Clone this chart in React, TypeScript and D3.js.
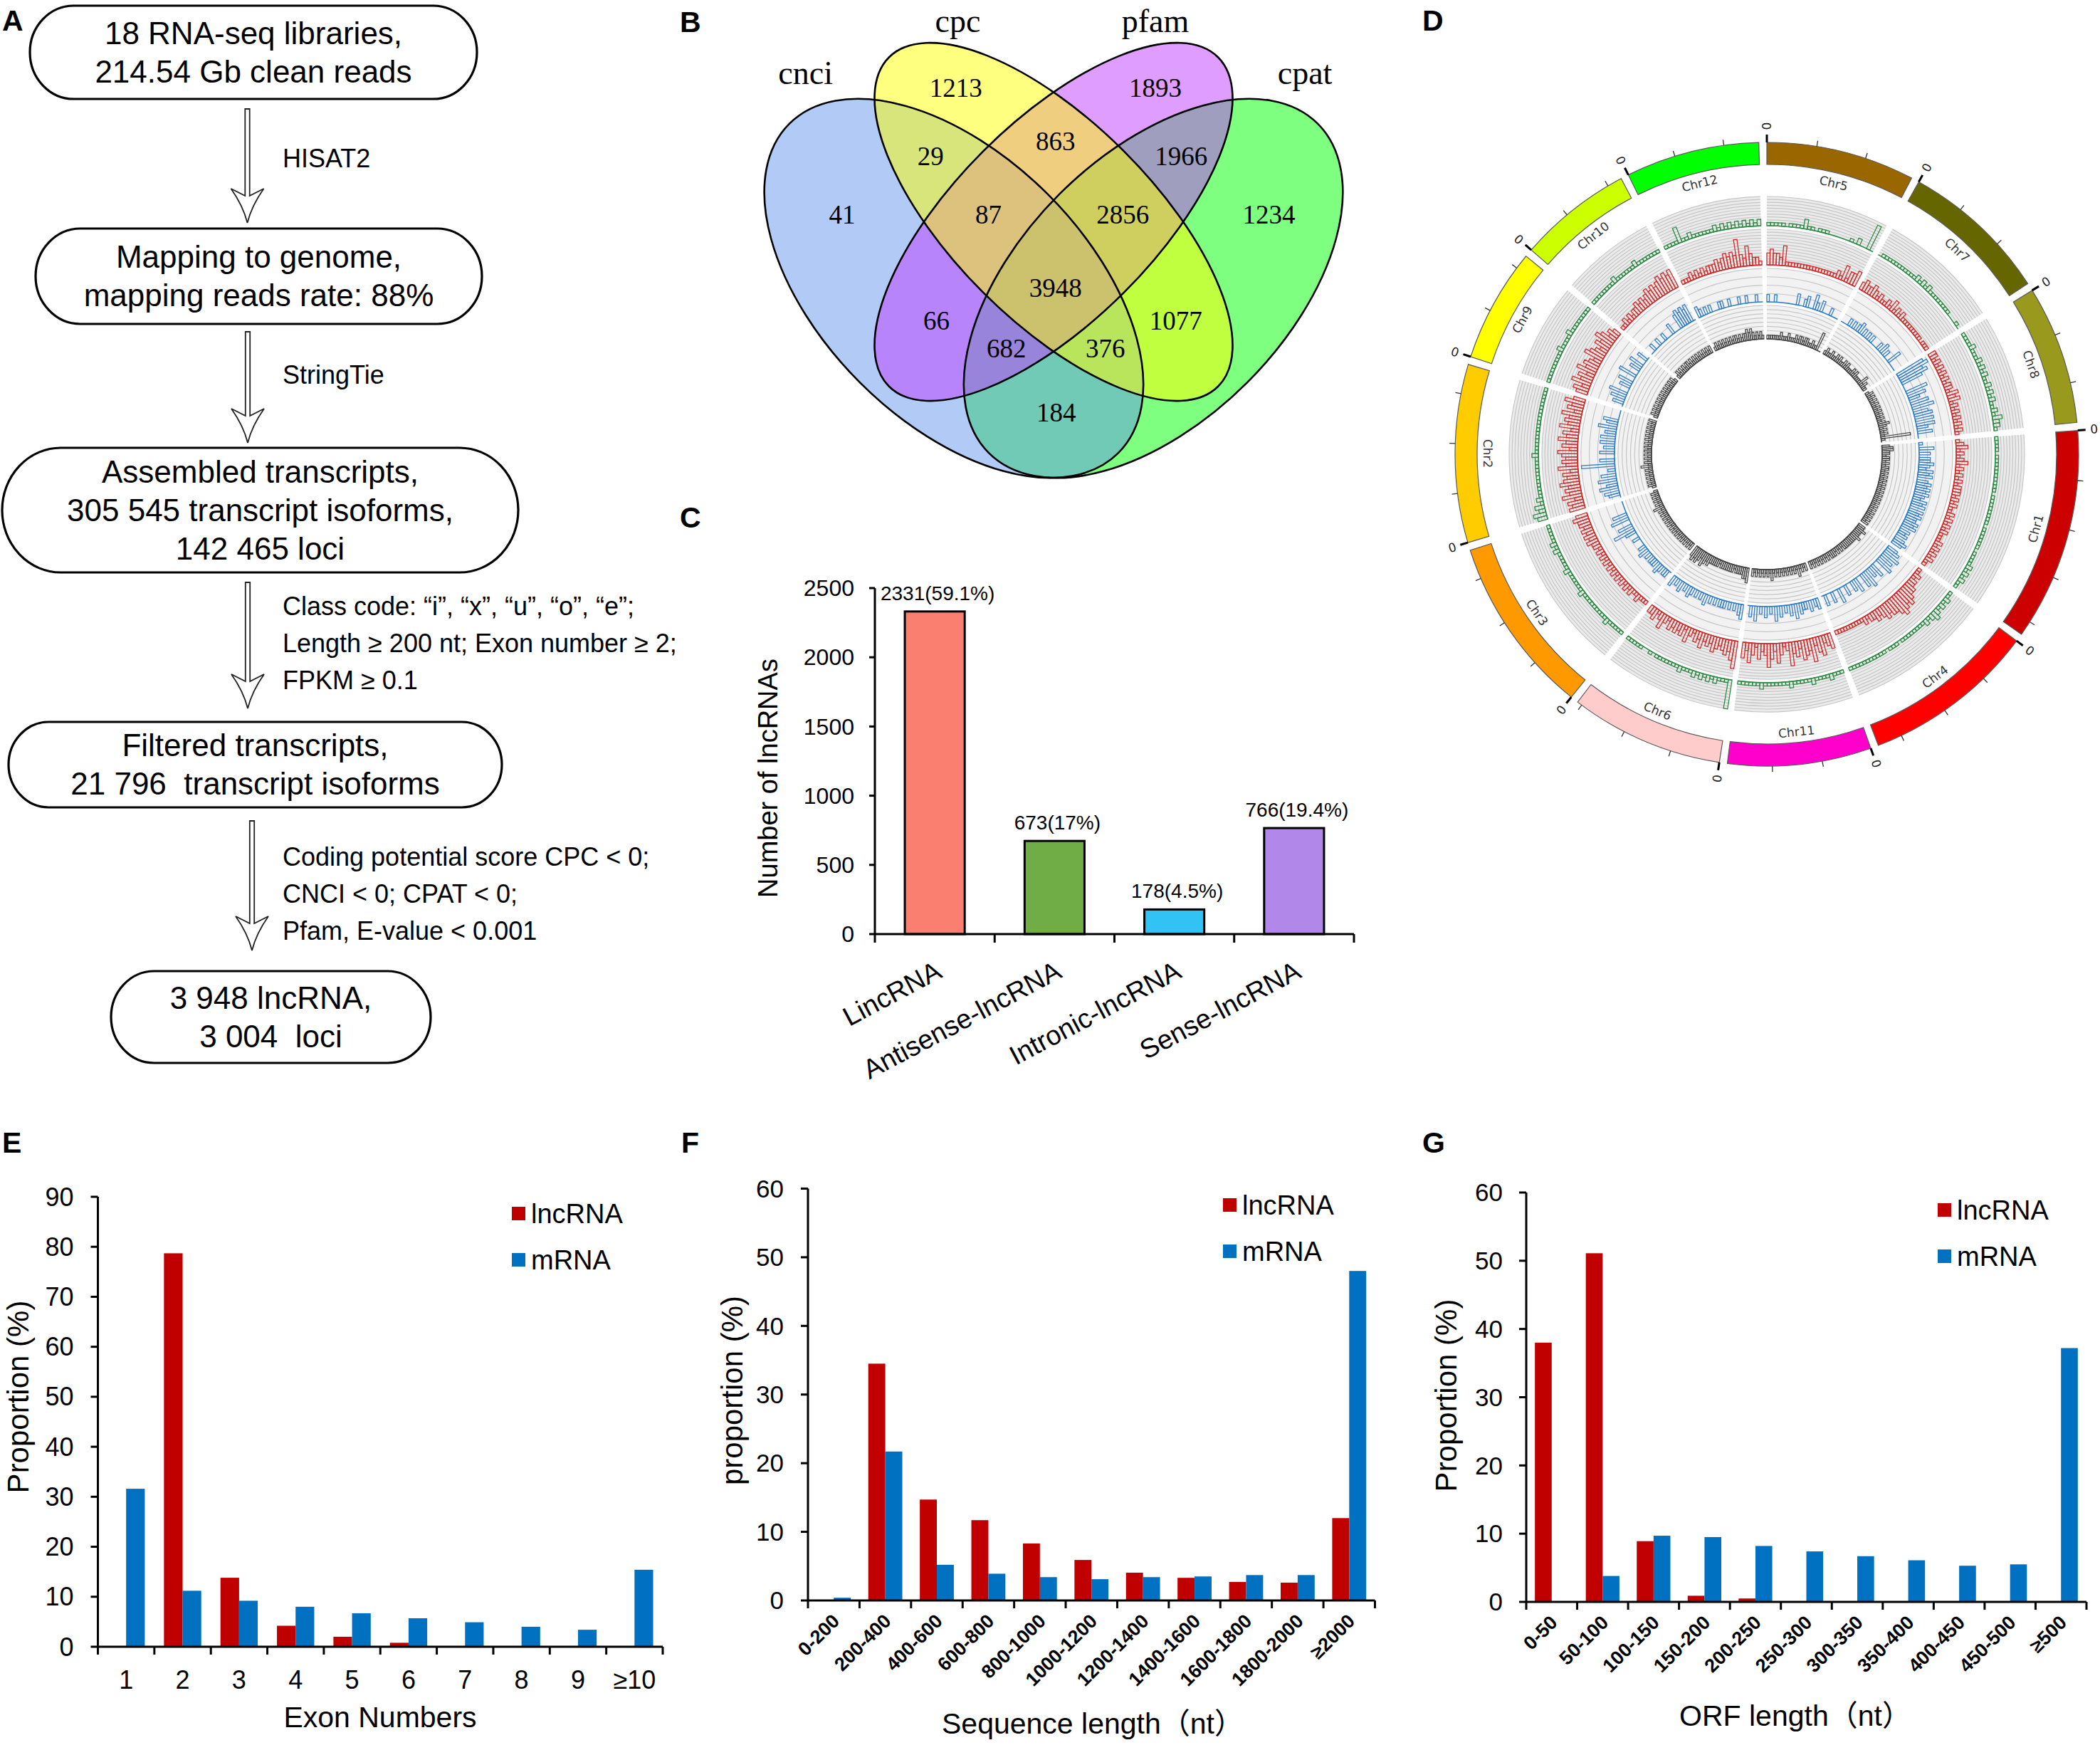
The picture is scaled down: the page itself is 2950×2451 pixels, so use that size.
import { useEffect } from "react";
import * as d3 from "d3";

const FONT = "'Liberation Sans', Arial, Helvetica, sans-serif";
const SERIF = "'Liberation Serif', 'Times New Roman', Times, serif";
const CIRCOS_FONT = "'DejaVu Sans', 'Liberation Sans', sans-serif";
const WIDE = "'Liberation Sans', Arial, 'Noto Sans CJK SC', sans-serif";

// ---------- A: pipeline ----------
const flowBoxText = [
  ["18 RNA-seq libraries,", "214.54 Gb clean reads"],
  ["Mapping to genome,", "mapping reads rate: 88%"],
  ["Assembled transcripts,", "305 545 transcript isoforms,", "142 465 loci"],
  ["Filtered transcripts,", "21 796  transcript isoforms"],
  ["3 948 lncRNA,", "3 004  loci"],
];
const flowStepText = [
  ["HISAT2"],
  ["StringTie"],
  [
    "Class code: \u201ci\u201d, \u201cx\u201d, \u201cu\u201d, \u201co\u201d, \u201ce\u201d;",
    "Length \u2265 200 nt; Exon number \u2265 2;",
    "FPKM \u2265 0.1",
  ],
  ["Coding potential score CPC < 0;", "CNCI < 0; CPAT < 0;", "Pfam, E-value < 0.001"],
];

// ---------- B: venn ----------
const vennSets = ["cnci", "cpc", "pfam", "cpat"];
const vennFills = ["#6495ed", "#ffff00", "#bf3eff", "#00ff00"];
const vennCounts = [41, 1213, 1893, 1234, 29, 863, 1966, 87, 2856, 3948, 66, 1077, 682, 376, 184];

// ---------- C: lncRNA classes ----------
const lncTypes = ["LincRNA", "Antisense-lncRNA", "Intronic-lncRNA", "Sense-lncRNA"];
const lncTypeCounts = [2331, 673, 178, 766];
const lncTypeShares = ["59.1%", "17%", "4.5%", "19.4%"];
const lncTypeColors = ["#fa7f70", "#70ad47", "#31c3f3", "#b287ea"];

// ---------- D: circos ----------
const chromNames = ["Chr5", "Chr7", "Chr8", "Chr1", "Chr4", "Chr11", "Chr6", "Chr3", "Chr2", "Chr9", "Chr10", "Chr12"];
const chromLengths = [30, 30, 28, 43, 35, 29, 31, 36, 36, 23, 23, 27]; // Mb
const chromColors = ["#996600", "#666600", "#99991e", "#cc0000", "#ff0000", "#ff00cc", "#ffcccc", "#ff9900", "#ffcc00", "#ffff00", "#ccff00", "#00ff00"];
// one digit per 1 Mb bin, 0-9 of the ring height, read by eye
const greenTrack = [
  "111110111131101110000001020080",
  "011111111111212121111111100010",
  "1111211121212112121211213221",
  "1111011111111110111111110111111011112121211",
  "11212123212111111110111011111111111",
  "11121111211111211111112111111",
  "9111212121211121111111010011111",
  "111112111111111211111121111121211111",
  "342312111111111112111111111111111111",
  "11111111121111211111111",
  "11111111211111121111111",
  "111151121111112121212121212",
];
const redTrack = [
  "343325111111111111111112141334",
  "232232121121312121111111110111",
  "2212121212122132312121212121",
  "1231212312121212221212112121212111212121211",
  "11212233454565443432322121111111111",
  "43254263452436213524632413524",
  "7534323423242312413232312421322",
  "111211212121212121212121223232323343",
  "434253435434253434524353425343524353",
  "34253425343254324354232",
  "11212122323234343454545",
  "111212121222323434373253221",
];
const blueTrack = [
  "200200000000300230042030002000",
  "000202023020202000203020040000",
  "8978600060530506045050530400",
  "1040303343243403434343243404343343403230343",
  "34050405004030504004030030040030030",
  "32030223040302030402030204030",
  "4302020222020203020202302030203",
  "022023022202030200020036040050400000",
  "034053050402090400403040403050340000",
  "03040500304005003040030",
  "00200200200030004545450",
  "320202000220020002002000200",
];
const greyTrack = [
  "111111121112111212212211211500",
  "121121121211212111212111131211",
  "1212121212121212123212121810",
  "2332212212122121212121212121212121212121212",
  "22322232222222212121222121212121212",
  "21213121212121212131212121212",
  "4332222122222221222223234234343",
  "212121212121212121212121213121212121",
  "121212121213121212121212121212121212",
  "12121212121212121212121",
  "12121212212121212121212",
  "121212121212212122323212121",
];

// ---------- E/F/G ----------
const exonCats = ["1", "2", "3", "4", "5", "6", "7", "8", "9", "\u226510"];
const exonLnc = [0, 78.7, 13.8, 4.2, 2.0, 0.8, 0.1, 0.1, 0.1, 0.1];
const exonMrna = [31.6, 11.2, 9.2, 8.0, 6.7, 5.7, 4.9, 4.0, 3.4, 15.4];

const lenCats = ["0-200", "200-400", "400-600", "600-800", "800-1000", "1000-1200", "1200-1400", "1400-1600", "1600-1800", "1800-2000", "\u22652000"];
const lenLnc = [0, 34.5, 14.7, 11.7, 8.3, 5.9, 4.05, 3.3, 2.7, 2.6, 12.0];
const lenMrna = [0.4, 21.7, 5.2, 3.9, 3.4, 3.1, 3.4, 3.5, 3.7, 3.7, 48.0];

const orfCats = ["0-50", "50-100", "100-150", "150-200", "200-250", "250-300", "300-350", "350-400", "400-450", "450-500", "\u2265500"];
const orfLnc = [38.0, 51.1, 8.9, 0.9, 0.5, 0.1, 0, 0, 0, 0, 0];
const orfMrna = [0, 3.8, 9.7, 9.5, 8.2, 7.4, 6.7, 6.1, 5.3, 5.5, 37.2];

const seriesNames = ["lncRNA", "mRNA"];
const seriesColors = ["#c00000", "#0070c0"];

// ---------- layout ----------
const BOX_FRAMES = [
  { x0: 42, x1: 670, y0: 8, y1: 139 },
  { x0: 50, x1: 677, y0: 321, y1: 455 },
  { x0: 3, x1: 728, y0: 629, y1: 804 },
  { x0: 12, x1: 705, y0: 1014, y1: 1134 },
  { x0: 156, x1: 605, y0: 1364, y1: 1493 },
];
const ARROW_FRAMES = [
  { x: 347.5, y0: 153, y1: 313 },
  { x: 348, y0: 466, y1: 622 },
  { x: 348, y0: 818, y1: 995 },
  { x: 354, y0: 1153, y1: 1335 },
];
const STEP_TEXT_Y = [222, 526, 851, 1203];

const VENN_SHAPES = [
  { cx: 0.35, cy: 0.47, a: 0.35, b: 0.2, rot: 45 },
  { cx: 0.5, cy: 0.57, a: 0.35, b: 0.15, rot: 45 },
  { cx: 0.5, cy: 0.57, a: 0.35, b: 0.15, rot: -45 },
  { cx: 0.65, cy: 0.47, a: 0.35, b: 0.2, rot: -45 },
];
const VENN_SET_POS = [[0.127, 0.777], [0.356, 0.855], [0.653, 0.855], [0.878, 0.777]];
const VENN_COUNT_POS = [
  [0.182, 0.581], [0.353, 0.772], [0.653, 0.772], [0.824, 0.581],
  [0.315, 0.669], [0.503, 0.691], [0.692, 0.669],
  [0.402, 0.581], [0.604, 0.581], [0.503, 0.471],
  [0.324, 0.421], [0.684, 0.421], [0.429, 0.38], [0.578, 0.38], [0.504, 0.283],
];

function arrowPath(x: number, y0: number, y1: number) {
  const hw = 3.2;
  const wing = 23;
  const wingY = y1 - 48;
  const joinY = wingY + 10;
  return `M${x - hw},${y0} L${x + hw},${y0} L${x + hw},${joinY} Q${x + hw + 8},${joinY - 4} ${x + wing},${wingY} Q${x + 6},${y1 - 24} ${x},${y1} Q${x - 6},${y1 - 24} ${x - wing},${wingY} Q${x - hw - 8},${joinY - 4} ${x - hw},${joinY} Z`;
}

function Pipeline() {
  return (
    <g>
      {flowBoxText.map((lines, i) => {
        const f = BOX_FRAMES[i];
        const h = f.y1 - f.y0;
        const mid = (f.y0 + f.y1) / 2;
        const cxm = (f.x0 + f.x1) / 2;
        return (
          <g key={"b" + i}>
            <rect x={f.x0} y={f.y0} width={f.x1 - f.x0} height={h} rx={h * 0.47} ry={h / 2} fill="#fff" stroke="#000" strokeWidth={3.2} />
            {lines.map((t, j) => (
              <text key={j} x={cxm} y={mid + (j - (lines.length - 1) / 2) * 54} dy="0.35em" textAnchor="middle" fontSize={44} style={{ whiteSpace: "pre" }}>
                {t}
              </text>
            ))}
          </g>
        );
      })}
      {ARROW_FRAMES.map((a, i) => (
        <g key={"a" + i}>
          <path d={arrowPath(a.x, a.y0, a.y1)} fill="#fff" stroke="#222" strokeWidth={1.8} />
          {flowStepText[i].map((t, j) => (
            <text key={j} x={397} y={STEP_TEXT_Y[i] + j * 52} dy="0.35em" fontSize={36}>
              {t}
            </text>
          ))}
        </g>
      ))}
    </g>
  );
}

function Venn() {
  const vx = d3.scaleLinear().domain([0, 1]).range([1013, 1947]);
  const vy = d3.scaleLinear().domain([0, 1]).range([844, -90]);
  const k = vx(1) - vx(0);
  const paintOrder = [3, 0, 2, 1];
  const shape = (i: number, props: any) => {
    const e = VENN_SHAPES[i];
    return (
      <ellipse key={i} cx={vx(e.cx)} cy={vy(e.cy)} rx={e.a * k} ry={e.b * k} transform={`rotate(${e.rot} ${vx(e.cx)} ${vy(e.cy)})`} {...props} />
    );
  };
  return (
    <g>
      {paintOrder.map((i) => shape(i, { fill: vennFills[i], fillOpacity: 0.5 }))}
      {VENN_SHAPES.map((_, i) => shape(i, { fill: "none", stroke: "#000", strokeWidth: 2.6 }))}
      {vennSets.map((s, i) => (
        <text key={s} x={vx(VENN_SET_POS[i][0])} y={vy(VENN_SET_POS[i][1])} textAnchor="middle" fontFamily={SERIF} fontSize={46}>
          {s}
        </text>
      ))}
      {vennCounts.map((c, i) => (
        <text key={i} x={vx(VENN_COUNT_POS[i][0])} y={vy(VENN_COUNT_POS[i][1])} dy="0.34em" textAnchor="middle" fontFamily={SERIF} fontSize={37}>
          {c}
        </text>
      ))}
    </g>
  );
}

function TypeBars() {
  const x = d3.scaleBand().domain(lncTypes).range([1229, 1902]);
  const y = d3.scaleLinear().domain([0, 2500]).range([1312, 826]);
  const bw = x.bandwidth() * 0.5;
  const x0 = 1229;
  const yb = y(0);
  return (
    <g>
      {lncTypes.map((t, i) => {
        const c = (x(t) as number) + x.bandwidth() / 2;
        return (
          <g key={t}>
            <rect x={c - bw / 2} y={y(lncTypeCounts[i])} width={bw} height={yb - y(lncTypeCounts[i])} fill={lncTypeColors[i]} stroke="#000" strokeWidth={3} />
            <text x={c + 4} y={y(lncTypeCounts[i]) - 16} textAnchor="middle" fontSize={28}>
              {`${lncTypeCounts[i]}(${lncTypeShares[i]})`}
            </text>
            <text transform={`translate(${c + 6},${yb + 48}) rotate(-28)`} dy="0.35em" textAnchor="end" fontSize={38}>
              {t}
            </text>
          </g>
        );
      })}
      <line x1={x0} x2={x0} y1={y(2500)} y2={yb} stroke="#000" strokeWidth={3} />
      <line x1={x0} x2={1902} y1={yb} y2={yb} stroke="#000" strokeWidth={3} />
      {y.ticks(5).map((v) => (
        <g key={v}>
          <line x1={x0 - 8} x2={x0} y1={y(v)} y2={y(v)} stroke="#000" strokeWidth={3} />
          <text x={x0 - 29} y={y(v)} dy="0.35em" textAnchor="end" fontSize={32}>
            {v}
          </text>
        </g>
      ))}
      {d3.range(lncTypes.length + 1).map((j) => {
        const xx = x0 + j * x.step();
        return <line key={j} x1={xx} x2={xx} y1={yb} y2={yb + 12} stroke="#000" strokeWidth={3} />;
      })}
      <text transform="translate(1079,1093) rotate(-90)" dy="0.35em" textAnchor="middle" fontSize={38}>
        Number of lncRNAs
      </text>
    </g>
  );
}

function Circos() {
  const cx = 2482;
  const cy = 638;
  const GAP = 1.6;
  const arcGen = d3.arc<any>();
  const starts: number[] = [];
  let acc = 0;
  chromLengths.forEach((len) => {
    starts.push(acc);
    acc += len + GAP;
  });
  const ang = d3.scaleLinear().domain([0, acc]).range([0, 2 * Math.PI]);
  const arcLine = (r: number, a0: number, a1: number) => {
    const p = d3.path();
    p.arc(0, 0, r, a0 - Math.PI / 2, a1 - Math.PI / 2);
    return p.toString();
  };
  const tracks = [
    { data: greenTrack, color: "#2e8b45", r0: 321, r1: 362, bg: "#ebebeb", lines: 10 },
    { data: redTrack, color: "#d22a2a", r0: 266, r1: 316, bg: "#ebebeb", lines: 12 },
    { data: blueTrack, color: "#2f7ccc", r0: 214, r1: 261, bg: "#f2f2f2", lines: 4 },
    { data: greyTrack, color: "#454545", r0: 162, r1: 209, bg: "#f2f2f2", lines: 8 },
  ];
  const RI = 407;
  const RO = 438;
  return (
    <g transform={`translate(${cx},${cy})`} fontFamily={CIRCOS_FONT}>
      {tracks.map((tr, ti) => {
        const rs = d3.scaleLinear().domain([0, 9]).range([tr.r0, tr.r1]);
        return (
          <g key={"t" + ti}>
            {chromNames.map((_, i) => {
              const a0 = ang(starts[i]);
              const a1 = ang(starts[i] + chromLengths[i]);
              const bins = tr.data[i].slice(0, chromLengths[i]).split("").map(Number);
              return (
                <g key={i}>
                  <path d={arcGen({ innerRadius: tr.r0, outerRadius: tr.r1, startAngle: a0, endAngle: a1 }) as string} fill={tr.bg} />
                  {d3.range(1, tr.lines + 1).map((kk) => (
                    <path key={kk} d={arcLine(tr.r0 + ((tr.r1 - tr.r0) * kk) / tr.lines, a0, a1)} fill="none" stroke="#c6c6c6" strokeWidth={1.2} />
                  ))}
                  <path d={arcLine(tr.r0, a0, a1)} fill="none" stroke={tr.color} strokeWidth={1.6} />
                  {bins.map((v, j) =>
                    v > 0 ? (
                      <path
                        key={"v" + j}
                        d={arcGen({ innerRadius: tr.r0, outerRadius: rs(v), startAngle: ang(starts[i] + j), endAngle: ang(starts[i] + j + 1) }) as string}
                        fill="none"
                        stroke={tr.color}
                        strokeWidth={1.3}
                      />
                    ) : null
                  )}
                </g>
              );
            })}
          </g>
        );
      })}
      {chromNames.map((name, i) => {
        const a0 = ang(starts[i]);
        const a1 = ang(starts[i] + chromLengths[i]);
        const mid = (a0 + a1) / 2;
        const deg = (mid * 180) / Math.PI;
        const rot = deg > 90 && deg < 271 ? deg - 180 : deg;
        const lr = 392;
        return (
          <g key={name}>
            <path d={arcGen({ innerRadius: RI, outerRadius: RO, startAngle: a0, endAngle: a1 }) as string} fill={chromColors[i]} stroke="#5a5a5a" strokeWidth={1.2} />
            <text transform={`translate(${lr * Math.sin(mid)},${-lr * Math.cos(mid)}) rotate(${rot})`} dy="0.35em" textAnchor="middle" fontSize={17} fill="#333">
              {name}
            </text>
            {d3.range(0, chromLengths[i], 10).map((t) => {
              const a = ang(starts[i] + t);
              const s = Math.sin(a);
              const c = -Math.cos(a);
              const major = t === 0;
              const r2 = major ? RO + 11 : RO + 8;
              return (
                <g key={t}>
                  <line x1={RO * s} y1={RO * c} x2={r2 * s} y2={r2 * c} stroke={major ? "#000" : "#333"} strokeWidth={major ? 3 : 1.3} />
                  {major ? (
                    <text transform={`translate(${461 * s},${461 * c}) rotate(${(a * 180) / Math.PI - 90})`} dy="0.35em" textAnchor="middle" fontSize={17} fill="#222">
                      0
                    </text>
                  ) : null}
                </g>
              );
            })}
          </g>
        );
      })}
    </g>
  );
}

type BarPanel = {
  cats: string[];
  lnc: number[];
  mrna: number[];
  yMax: number;
  yStep: number;
  x0: number;
  x1: number;
  yTop: number;
  yBot: number;
  yTickFont: number;
  yLabelGap: number;
  rotated: boolean;
  xTitle: string;
  xTitleX: number;
  xTitleY: number;
  yTitle: string;
  yTitleX: number;
  yTitleY: number;
  legendX: number;
  legendY: number;
};

function GroupedBars(p: BarPanel) {
  const x = d3.scaleBand().domain(p.cats).range([p.x0, p.x1]).paddingInner(0.34).paddingOuter(0.17);
  const xs = d3.scaleBand().domain(seriesNames).range([0, x.bandwidth()]);
  const y = d3.scaleLinear().domain([0, p.yMax]).range([p.yBot, p.yTop]);
  const series = [p.lnc, p.mrna];
  return (
    <g>
      {p.cats.map((c, i) => (
        <g key={c}>
          {series.map((vals, s) =>
            vals[i] > 0 ? (
              <rect key={s} x={(x(c) as number) + (xs(seriesNames[s]) as number)} y={y(vals[i])} width={xs.bandwidth()} height={p.yBot - y(vals[i])} fill={seriesColors[s]} />
            ) : null
          )}
        </g>
      ))}
      <line x1={p.x0} x2={p.x0} y1={p.yTop} y2={p.yBot} stroke="#000" strokeWidth={3} />
      <line x1={p.x0} x2={p.x1} y1={p.yBot} y2={p.yBot} stroke="#000" strokeWidth={3} />
      {d3.range(0, p.yMax + 0.001, p.yStep).map((v) => (
        <g key={v}>
          <line x1={p.x0 - 10} x2={p.x0} y1={y(v)} y2={y(v)} stroke="#000" strokeWidth={3} />
          <text x={p.x0 - p.yLabelGap} y={y(v)} dy="0.35em" textAnchor="end" fontSize={p.yTickFont}>
            {v}
          </text>
        </g>
      ))}
      {d3.range(p.cats.length + 1).map((j) => {
        const xx = p.x0 + j * x.step();
        return <line key={j} x1={xx} x2={xx} y1={p.yBot} y2={p.yBot + 11} stroke="#000" strokeWidth={3} />;
      })}
      {p.cats.map((c) => {
        const cc = (x(c) as number) + x.bandwidth() / 2;
        return p.rotated ? (
          <text key={c} transform={`translate(${cc + 3},${p.yBot + 24}) rotate(-45)`} dy="0.35em" textAnchor="end" fontSize={27} fontWeight="bold">
            {c}
          </text>
        ) : (
          <text key={c} x={cc} y={p.yBot + 59} textAnchor="middle" fontSize={36}>
            {c}
          </text>
        );
      })}
      <text x={p.xTitleX} y={p.xTitleY} textAnchor="middle" fontSize={41} fontFamily={WIDE}>
        {p.xTitle}
      </text>
      <text transform={`translate(${p.yTitleX},${p.yTitleY}) rotate(-90)`} dy="0.35em" textAnchor="middle" fontSize={42} style={{ whiteSpace: "pre" }}>
        {p.yTitle}
      </text>
      {seriesNames.map((s, i) => (
        <g key={s}>
          <rect x={p.legendX} y={p.legendY + i * 65} width={19} height={19} fill={seriesColors[i]} />
          <text x={p.legendX + 27} y={p.legendY + i * 65 + 9.5} dy="0.35em" fontSize={38}>
            {s}
          </text>
        </g>
      ))}
    </g>
  );
}

const PANEL_LETTERS = [
  ["A", 3, 43],
  ["B", 955, 45],
  ["C", 955, 741],
  ["D", 1998, 43],
  ["E", 3, 1619],
  ["F", 957, 1619],
  ["G", 1998, 1619],
] as const;

export default function App() {
  useEffect(() => {
    document.body.style.margin = "0";
  }, []);
  return (
    <svg width={2950} height={2451} viewBox="0 0 2950 2451" style={{ display: "block", position: "absolute", left: 0, top: 0 }} fontFamily={FONT}>
      <rect width={2950} height={2451} fill="#fff" />
      {PANEL_LETTERS.map(([l, x, y]) => (
        <text key={l} x={x} y={y} fontSize={41} fontWeight="bold">
          {l}
        </text>
      ))}
      <Pipeline />
      <Venn />
      <TypeBars />
      <Circos />
      <GroupedBars
        cats={exonCats} lnc={exonLnc} mrna={exonMrna} yMax={90} yStep={10}
        x0={137.5} x1={931} yTop={1681} yBot={2313} yTickFont={36} yLabelGap={34}
        rotated={false} xTitle="Exon Numbers" xTitleX={534} xTitleY={2426}
        yTitle="Proportion (%)" yTitleX={25} yTitleY={1962} legendX={719} legendY={1695}
      />
      <GroupedBars
        cats={lenCats} lnc={lenLnc} mrna={lenMrna} yMax={60} yStep={10}
        x0={1135} x1={1931.5} yTop={1669.5} yBot={2248} yTickFont={35} yLabelGap={34}
        rotated={true} xTitle={"Sequence length\uff08nt\uff09"} xTitleX={1535} xTitleY={2435}
        yTitle="proportion (%)" yTitleX={1028} yTitleY={1953} legendX={1718} legendY={1683}
      />
      <GroupedBars
        cats={orfCats} lnc={orfLnc} mrna={orfMrna} yMax={60} yStep={10}
        x0={2144} x1={2931} yTop={1675} yBot={2250} yTickFont={35} yLabelGap={33}
        rotated={true} xTitle={"ORF length\uff08nt\uff09"} xTitleX={2522} xTitleY={2424}
        yTitle="Proportion (%)" yTitleX={2031} yTitleY={1960} legendX={2722} legendY={1690}
      />
    </svg>
  );
}
